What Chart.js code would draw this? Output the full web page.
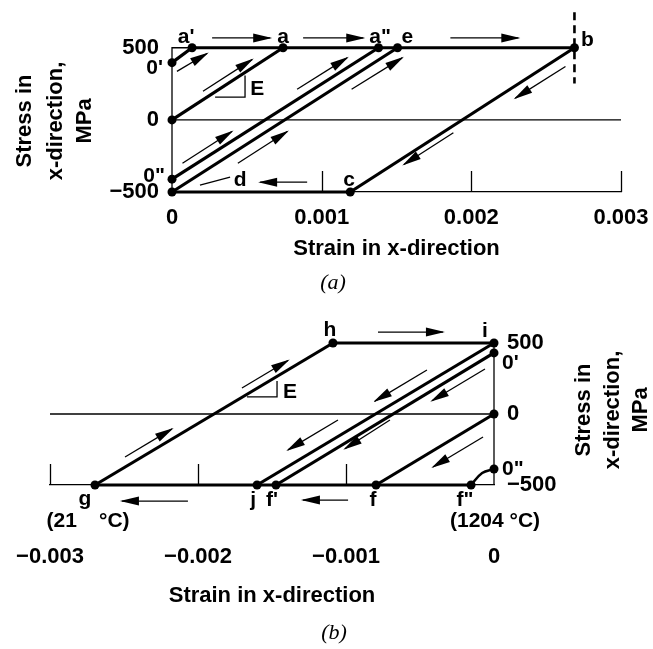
<!DOCTYPE html>
<html>
<head>
<meta charset="utf-8">
<script src="https://cdn.jsdelivr.net/npm/chart.js@4.4.1/dist/chart.umd.min.js"></script>
<style>
    html, body { margin: 0; padding: 0; background: #fff; }
    #wrap { position: relative; width: 653px; height: 649px; }
    #chartA { position: absolute; left: 0; top: 0; }
    #chartB { position: absolute; left: 0; top: 300px; }
</style>
</head>
<body>
<div id="wrap">
    <canvas id="chartA" width="653" height="300"></canvas>
    <canvas id="chartB" width="653" height="349"></canvas>
</div>
<script>
// ------------------ DONNÉES (a) : chauffage ------------------
const ptNamesA  = ["0'", "a'", "a", 'a"', "e", "b", "c", "d", '0"', "0"];
const ptStrainA = [0, 0.000134, 0.000742, 0.00138, 0.001507, 0.002689, 0.001191, 0, 0, 0];
const ptStressA = [397, 500, 500, 500, 500, 500, -500, -500, -411, 0];

// segments épais entre points nommés
const thickPathsA = [["0'", "a'"], ["a'", "b"], ["0", "a"], ['0"', 'a"'], ["d", "e"], ["b", "c"], ["c", "d"]];
// lignes fines (cadre, axe zéro, repère de d)
const thinPathsA = [
    [[0, -500], [0, 500], [0.000134, 500]],
    [[0, 0], [0.003, 0]],
    [[0.000187, -452], [0.000388, -397]]
];
const slopeA = [[0.000288, 158], [0.000488, 158], [0.000488, 308]];
const dashedA = [[0.002689, 747], [0.002689, 253]];

// flèches [x1, y1, x2, y2]
const arrowsA = [
    [0.000268, 568, 0.000656, 568],
    [0.000876, 568, 0.001278, 568],
    [0.00186, 568, 0.002314, 568],
    [0.000033, 336, 0.000234, 460],
    [0.000207, 199, 0.000535, 418],
    [0.000836, 212, 0.00117, 430],
    [0.0012, 212, 0.001538, 430],
    [0.00007, -301, 0.0004, -81],
    [0.00044, -301, 0.00077, -81],
    [0.002629, 370, 0.002294, 151],
    [0.00188, -89, 0.00155, -309],
    [0.000903, -432, 0.000589, -432]
];
const textsA = [
    ["a'", 0.000094, 575], ["a", 0.000742, 575], ['a"', 0.001391, 575], ["e", 0.001572, 575],
    ["b", 0.002776, 555], ["c", 0.001184, -418], ["d", 0.000455, -418],
    ["E", 0.000522, 212, 'left'], ["0'", -0.00006, 356, 'right'], ['0"', -0.000047, -390, 'right']
];
const xTicksA = [0, 0.001, 0.002, 0.003];
const xTickLabelsA = ['0', '0.001', '0.002', '0.003'];
const xTickMarksA = [0.001, 0.002, 0.003];
const yTicksA = [-500, 0, 500];
const yTickLabelsA = ['\u2212500', '0', '500'];

// ------------------ DONNÉES (b) : refroidissement ------------------
const ptNamesB  = ["i", "h", "g", "j", "f'", "f", 'f"', "0'", "0", '0"'];
const ptStrainB = [0, -0.001088, -0.002696, -0.001601, -0.001473, -0.000797, -0.000155, 0, 0, 0];
const ptStressB = [500, 500, -500, -500, -500, -500, -500, 430, 0, -387];

const thickPathsB = [["g", "h"], ["h", "i"], ["i", "j"], ["0'", "f'"], ["0", "f"], ["g", 'f"']];
const curveB = [[0, -387], [-0.00008, -415], [-0.000155, -500]];
const thinPathsB = [
    [[0, -500], [0, 500]],
    [[-0.003, 0], [0, 0]]
];
const slopeB = [[-0.001669, 120], [-0.001466, 120], [-0.001466, 232]];

const arrowsB = [
    [-0.000784, 577, -0.000345, 577],
    [-0.001703, 183, -0.001392, 377],
    [-0.002493, -303, -0.002176, -105],
    [-0.000453, 310, -0.000804, 91],
    [-0.000061, 317, -0.000419, 93],
    [-0.001054, -42, -0.001392, -253],
    [-0.000703, -42, -0.001007, -245],
    [-0.000074, -162, -0.000412, -373],
    [-0.002068, -613, -0.002514, -613],
    [-0.000986, -606, -0.001291, -606]
];
const textsB = [
    ["h", -0.001108, 592], ["i", -0.000061, 585], ["E", -0.001426, 155, 'left'],
    ["0'", 0.000054, 359, 'left'], ['0"', 0.000054, -387, 'left'],
    ["g", -0.002764, -600], ["j", -0.001628, -606], ["f'", -0.0015, -606],
    ["f", -0.000818, -606], ['f"', -0.000196, -606],
    ["(21", -0.002818, -752, 'right'], ["\u00b0C)", -0.002669, -752, 'left'],
    ["(1204 \u00b0C)", 0.000007, -752]
];
const xTicksB = [-0.003, -0.002, -0.001, 0];
const xTickLabelsB = ['\u22120.003', '\u22120.002', '\u22120.001', '0'];
const xTickMarksB = [-0.003, -0.002, -0.001];
const yTicksB = [-500, 0, 500];
const yTickLabelsB = ['\u2212500', '0', '500'];

const yTitleLines = ['Stress in', 'x-direction,', 'MPa'];
const xTitle = 'Strain in x-direction';

// ------------------ STYLES ------------------
const FAMILY = '"Liberation Sans", Arial, Helvetica, sans-serif';
const TICK_FONT = { family: FAMILY, size: 22, weight: 'bold' };
const THICK = 3.2;
const THIN = 1.3;

function lookup(names, xs, ys) {
    const map = {};
    names.forEach((n, i) => { map[n] = [xs[i], ys[i]]; });
    return map;
}

function pathDataset(pts, width, extra) {
    return Object.assign({
        data: pts.map(p => ({ x: p[0], y: p[1] })),
        showLine: true,
        borderColor: '#000',
        borderWidth: width,
        pointRadius: 0,
        pointHoverRadius: 0,
        fill: false,
        tension: 0,
        clip: false
    }, extra || {});
}

function buildDatasets(names, xs, ys, thickPaths, thinPaths, slope, arrows, extras) {
    const pts = lookup(names, xs, ys);
    const sets = [];
    // les points en premier pour qu'ils soient dessinés au-dessus
    sets.push({
        data: names.map(n => ({ x: pts[n][0], y: pts[n][1] })),
        pointRadius: 4.5,
        pointBackgroundColor: '#000',
        pointBorderWidth: 0,
        showLine: false,
        clip: false
    });
    thickPaths.forEach(s => sets.push(pathDataset([pts[s[0]], pts[s[1]]], THICK)));
    thinPaths.forEach(p => sets.push(pathDataset(p, THIN)));
    sets.push(pathDataset(slope, THIN));
    arrows.forEach(a => sets.push(pathDataset([[a[0], a[1]], [a[2], a[3]]], THIN)));
    (extras || []).forEach(e => sets.push(e));
    return sets;
}

// Plugin : pointes de flèches, petits traits de graduation, lettres, titres verticaux
function figureMarks(cfg) {
    return {
        id: 'figureMarks',
        afterDatasetsDraw(chart) {
            const ctx = chart.ctx;
            const xs = chart.scales.x, ys = chart.scales.y;
            ctx.save();
            ctx.fillStyle = '#000';
            ctx.strokeStyle = '#000';

            // graduations vers l'intérieur
            ctx.lineWidth = THIN;
            const yb = ys.getPixelForValue(ys.min);
            cfg.tickMarks.forEach(v => {
                const px = Math.round(xs.getPixelForValue(v)) + 0.5;
                ctx.beginPath();
                ctx.moveTo(px, yb);
                ctx.lineTo(px, yb - 21);
                ctx.stroke();
            });

            // pointes de flèches
            cfg.arrows.forEach(a => {
                const x1 = xs.getPixelForValue(a[0]), y1 = ys.getPixelForValue(a[1]);
                const x2 = xs.getPixelForValue(a[2]), y2 = ys.getPixelForValue(a[3]);
                const ang = Math.atan2(y2 - y1, x2 - x1);
                ctx.save();
                ctx.translate(x2, y2);
                ctx.rotate(ang);
                ctx.beginPath();
                ctx.moveTo(2, 0);
                ctx.lineTo(-17, -4.5);
                ctx.lineTo(-17, 4.5);
                ctx.closePath();
                ctx.fill();
                ctx.restore();
            });

            // lettres
            ctx.font = 'bold 21px ' + FAMILY;
            ctx.textBaseline = 'middle';
            cfg.texts.forEach(t => {
                ctx.textAlign = t[3] || 'center';
                ctx.fillText(t[0], xs.getPixelForValue(t[1]), ys.getPixelForValue(t[2]));
            });
            ctx.restore();
        },
        afterDraw(chart) {
            const ctx = chart.ctx;
            ctx.save();
            ctx.fillStyle = '#000';
            ctx.textAlign = 'center';
            ctx.textBaseline = 'middle';
            ctx.font = 'bold 22px ' + FAMILY;
            yTitleLines.forEach((s, i) => {
                ctx.save();
                ctx.translate(cfg.yTitleX[i], cfg.yTitleY);
                ctx.rotate(-Math.PI / 2);
                ctx.fillText(s, 0, 0);
                ctx.restore();
            });
            ctx.font = 'italic 22px "Liberation Serif", "Times New Roman", serif';
            ctx.fillText(cfg.caption, cfg.captionX, cfg.captionY);
            ctx.restore();
        }
    };
}

function makeChart(id, o) {
    return new Chart(document.getElementById(id), {
        type: 'scatter',
        data: { datasets: o.datasets },
        options: {
            responsive: false,
            animation: false,
            events: [],
            layout: { padding: o.padding },
            plugins: { legend: { display: false }, tooltip: { enabled: false } },
            scales: {
                x: {
                    type: 'linear',
                    min: o.xMin, max: o.xMax,
                    afterBuildTicks: s => { s.ticks = o.xTicks.map(v => ({ value: v })); },
                    afterFit: s => {
                        s.height = o.xAxisHeight;
                        s.paddingLeft = 0;
                        s.paddingRight = 0;
                    },
                    grid: { display: false, drawTicks: false },
                    border: { display: true, color: '#000', width: THIN },
                    ticks: {
                        autoSkip: false, maxRotation: 0, color: '#000', font: TICK_FONT,
                        padding: o.xTickPad,
                        callback: v => o.xTickLabels[o.xTicks.indexOf(v)]
                    },
                    title: {
                        display: true, text: xTitle, color: '#000', font: TICK_FONT,
                        padding: { top: 0, bottom: o.xTitlePad }
                    }
                },
                y: {
                    type: 'linear',
                    position: o.yPos,
                    min: -500, max: o.yMax,
                    afterBuildTicks: s => { s.ticks = o.yTicks.map(v => ({ value: v })); },
                    afterFit: s => {
                        s.width = o.yAxisWidth;
                        s.paddingTop = 0;
                        s.paddingBottom = 0;
                    },
                    grid: { display: false, drawTicks: false },
                    border: { display: false },
                    ticks: {
                        autoSkip: false, color: '#000', font: TICK_FONT, padding: 13,
                        callback: v => o.yTickLabels[o.yTicks.indexOf(v)]
                    }
                }
            }
        },
        plugins: [figureMarks(o.marks)]
    });
}

// ------------------ (a) ------------------
makeChart('chartA', {
    datasets: buildDatasets(ptNamesA, ptStrainA, ptStressA, thickPathsA, thinPathsA, slopeA, arrowsA,
        [pathDataset(dashedA, 2.6, { borderDash: [8, 5] })]),
    padding: { left: 0, right: 32, top: 2.2, bottom: 0 },
    xMin: 0, xMax: 0.003, yMax: 800, yPos: 'left',
    xTicks: xTicksA, xTickLabels: xTickLabelsA,
    yTicks: yTicksA, yTickLabels: yTickLabelsA,
    xAxisHeight: 108, yAxisWidth: 172, xTickPad: 13, xTitlePad: 38,
    marks: {
        tickMarks: xTickMarksA, arrows: arrowsA, texts: textsA,
        yTitleX: [25, 56, 85], yTitleY: 121,
        caption: '(a)', captionX: 333, captionY: 283
    }
});

// ------------------ (b) ------------------
makeChart('chartB', {
    datasets: buildDatasets(ptNamesB, ptStrainB, ptStressB, thickPathsB, thinPathsB, slopeB, arrowsB,
        [pathDataset(curveB, THICK * 0.8, { tension: 0.4 })]),
    padding: { left: 50, right: 0, top: 14.6, bottom: 0 },
    xMin: -0.003, xMax: 0, yMax: 700, yPos: 'right',
    xTicks: xTicksB, xTickLabels: xTickLabelsB,
    yTicks: yTicksB, yTickLabels: yTickLabelsB,
    xAxisHeight: 164, yAxisWidth: 159, xTickPad: 59, xTitlePad: 40,
    marks: {
        tickMarks: xTickMarksB, arrows: arrowsB, texts: textsB,
        yTitleX: [584, 613, 641], yTitleY: 110,
        caption: '(b)', captionX: 334, captionY: 333
    }
});
</script>
</body>
</html>
